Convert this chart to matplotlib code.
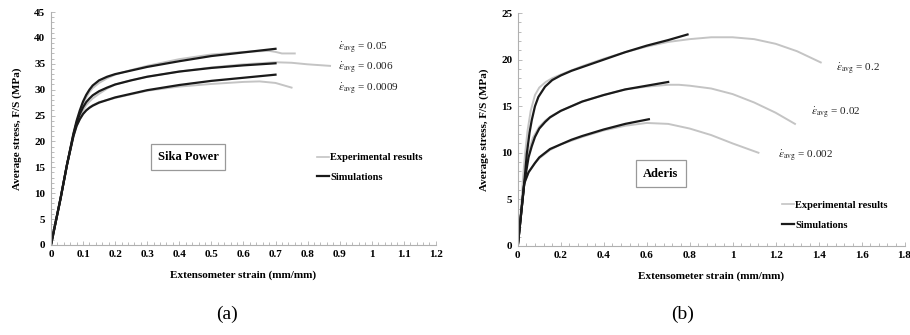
import numpy as np
import matplotlib
matplotlib.use("Agg")
import matplotlib.pyplot as plt
from matplotlib.ticker import MultipleLocator, FormatStrFormatter

plt.rcParams['font.family'] = ['Liberation Serif', 'DejaVu Serif']
plt.rcParams['mathtext.fontset'] = 'stix'

# --- Sika Power (a) ---
sika_exp_005_x = [0, 0.03, 0.05, 0.07, 0.08, 0.09, 0.1, 0.11, 0.12, 0.13, 0.15, 0.175, 0.2, 0.25, 0.3, 0.4, 0.5, 0.6, 0.68, 0.7, 0.72, 0.76]
sika_exp_005_y = [0, 9.0, 15.5, 21.0, 23.5, 25.5, 27.2, 28.5, 29.5, 30.3, 31.3, 32.2, 32.9, 33.8, 34.6, 35.9, 36.8, 37.3, 37.5, 37.3, 37.0, 37.0]
sika_exp_0006_x = [0, 0.03, 0.05, 0.07, 0.08, 0.09, 0.1, 0.11, 0.12, 0.13, 0.15, 0.175, 0.2, 0.25, 0.3, 0.4, 0.5, 0.6, 0.7, 0.75, 0.8, 0.87]
sika_exp_0006_y = [0, 9.0, 15.5, 21.0, 23.2, 24.8, 26.0, 27.0, 27.7, 28.3, 29.2, 30.2, 31.0, 31.8, 32.5, 33.5, 34.3, 34.9, 35.3, 35.2, 34.9, 34.6]
sika_exp_00009_x = [0, 0.03, 0.05, 0.07, 0.08, 0.09, 0.1, 0.11, 0.12, 0.13, 0.15, 0.175, 0.2, 0.25, 0.3, 0.4, 0.5, 0.6, 0.65, 0.7, 0.75]
sika_exp_00009_y = [0, 9.0, 15.5, 21.0, 23.0, 24.3, 25.3, 26.0, 26.6, 27.0, 27.6, 28.0, 28.4, 29.1, 29.8, 30.6, 31.1, 31.5, 31.6, 31.3, 30.4]

sika_sim_005_x = [0, 0.03, 0.05, 0.07, 0.08, 0.09, 0.1, 0.11, 0.12, 0.13, 0.15, 0.175, 0.2, 0.25, 0.3, 0.4, 0.5, 0.6, 0.7]
sika_sim_005_y = [0, 9.0, 15.5, 21.5, 24.0, 26.0, 27.7, 29.0, 30.0, 30.8, 31.8, 32.5, 33.0, 33.7, 34.4, 35.5, 36.5, 37.2, 37.9]
sika_sim_0006_x = [0, 0.03, 0.05, 0.07, 0.08, 0.09, 0.1, 0.11, 0.12, 0.13, 0.15, 0.175, 0.2, 0.25, 0.3, 0.4, 0.5, 0.6, 0.7]
sika_sim_0006_y = [0, 9.0, 15.5, 21.3, 23.6, 25.3, 26.6, 27.6, 28.3, 28.9, 29.7, 30.4, 31.0, 31.8, 32.5, 33.5, 34.2, 34.7, 35.1]
sika_sim_00009_x = [0, 0.03, 0.05, 0.07, 0.08, 0.09, 0.1, 0.11, 0.12, 0.13, 0.15, 0.175, 0.2, 0.25, 0.3, 0.4, 0.5, 0.6, 0.7]
sika_sim_00009_y = [0, 9.0, 15.5, 21.0, 23.0, 24.3, 25.3, 26.0, 26.5, 26.9, 27.5, 28.0, 28.5, 29.2, 29.9, 30.9, 31.7, 32.3, 32.9]

sika_rates = ['0.05', '0.006', '0.0009']
sika_label_xy = [(0.895, 38.0), (0.895, 34.2), (0.895, 30.1)]

# --- Aderis (b) ---
ader_exp_02_x = [0, 0.015, 0.025, 0.034, 0.045, 0.06, 0.08, 0.1, 0.13, 0.16, 0.2, 0.3, 0.4, 0.5, 0.6, 0.7, 0.8, 0.9, 1.0, 1.1, 1.2, 1.3, 1.41]
ader_exp_02_y = [0, 4.0, 7.5, 9.9, 12.3, 14.5, 16.2, 17.0, 17.6, 18.0, 18.4, 19.3, 20.1, 20.8, 21.4, 21.9, 22.2, 22.4, 22.4, 22.2, 21.7, 20.9, 19.7]
ader_exp_002_x = [0, 0.015, 0.03, 0.05, 0.07, 0.1, 0.13, 0.16, 0.2, 0.3, 0.4, 0.5, 0.6, 0.7, 0.75, 0.8, 0.9, 1.0, 1.1, 1.2, 1.29]
ader_exp_002_y = [0, 3.5, 6.8, 10.0, 11.6, 12.8, 13.5, 14.0, 14.5, 15.5, 16.2, 16.8, 17.1, 17.3, 17.3, 17.2, 16.9, 16.3, 15.4, 14.3, 13.1]
ader_exp_0002_x = [0, 0.015, 0.03, 0.05, 0.08, 0.1, 0.15, 0.2, 0.3, 0.4, 0.5, 0.6, 0.7, 0.8, 0.9, 1.0, 1.12]
ader_exp_0002_y = [0, 3.5, 6.7, 7.9, 8.9, 9.4, 10.3, 10.9, 11.7, 12.4, 12.9, 13.2, 13.1, 12.6, 11.9, 11.0, 10.0]

ader_sim_02_x = [0, 0.03, 0.042, 0.055, 0.065, 0.08, 0.096, 0.127, 0.16, 0.2, 0.25, 0.3, 0.4, 0.5, 0.6, 0.7, 0.79]
ader_sim_02_y = [0, 6.7, 9.9, 12.2, 13.5, 15.0, 16.0, 17.1, 17.8, 18.3, 18.8, 19.2, 20.0, 20.8, 21.5, 22.1, 22.7]
ader_sim_002_x = [0, 0.03, 0.05, 0.065, 0.08, 0.1, 0.127, 0.15, 0.2, 0.25, 0.3, 0.4, 0.5, 0.6, 0.7]
ader_sim_002_y = [0, 6.7, 9.5, 10.7, 11.7, 12.6, 13.3, 13.8, 14.5, 15.0, 15.5, 16.2, 16.8, 17.2, 17.6]
ader_sim_0002_x = [0, 0.03, 0.05, 0.08, 0.1, 0.15, 0.2, 0.25, 0.3, 0.4, 0.5, 0.61]
ader_sim_0002_y = [0, 6.7, 7.9, 8.9, 9.5, 10.4, 10.9, 11.4, 11.8, 12.5, 13.1, 13.6]

ader_rates = ['0.2', '0.02', '0.002']
ader_label_xy = [(1.48, 19.0), (1.366, 14.2), (1.21, 9.66)]

EXP_COLOR = '#c4c4c4'
SIM_COLOR = '#1a1a1a'
AXIS_COLOR = '#b0b0b0'


def style_axes(ax, xmax, xmaj, xmin, ymax, ymaj, ymin):
    ax.set_xlim(0, xmax)
    ax.set_ylim(0, ymax)
    ax.xaxis.set_major_locator(MultipleLocator(xmaj))
    ax.xaxis.set_minor_locator(MultipleLocator(xmin))
    ax.yaxis.set_major_locator(MultipleLocator(ymaj))
    ax.yaxis.set_minor_locator(MultipleLocator(ymin))
    ax.xaxis.set_major_formatter(FormatStrFormatter('%g'))
    for s in ['top', 'right']:
        ax.spines[s].set_visible(False)
    for s in ['left', 'bottom']:
        ax.spines[s].set_color(AXIS_COLOR)
        ax.spines[s].set_linewidth(0.8)
    ax.tick_params(which='both', direction='in', color=AXIS_COLOR, width=0.6)
    ax.tick_params(which='major', length=3, labelsize=8, pad=4)
    ax.tick_params(which='minor', length=2.5)
    for lab in ax.get_xticklabels() + ax.get_yticklabels():
        lab.set_fontweight('bold')
    ax.set_xlabel('Extensometer strain (mm/mm)', fontsize=8, fontweight='bold', labelpad=8)
    ax.set_ylabel('Average stress, F/S (MPa)', fontsize=8, fontweight='bold', labelpad=9)


fig = plt.figure(figsize=(9.1, 3.35), dpi=100)
ax1 = fig.add_axes([0.056, 0.269, 0.423, 0.695])
ax2 = fig.add_axes([0.569, 0.266, 0.425, 0.695])

# (a) Sika Power
for x, y in [(sika_exp_005_x, sika_exp_005_y), (sika_exp_0006_x, sika_exp_0006_y),
             (sika_exp_00009_x, sika_exp_00009_y)]:
    ax1.plot(x, y, color=EXP_COLOR, lw=1.4)
for x, y in [(sika_sim_005_x, sika_sim_005_y), (sika_sim_0006_x, sika_sim_0006_y),
             (sika_sim_00009_x, sika_sim_00009_y)]:
    ax1.plot(x, y, color=SIM_COLOR, lw=1.6)
style_axes(ax1, 1.2, 0.1, 0.02, 45, 5, 1)
for r, (tx, ty) in zip(sika_rates, sika_label_xy):
    ax1.text(tx, ty, r'$\dot{\varepsilon}_{\mathrm{avg}}$ = ' + r, fontsize=8, va='center', color='#222222')
ax1.text(0.356, 0.378, 'Sika Power', transform=ax1.transAxes, ha='center', va='center',
         fontsize=9, fontweight='bold',
         bbox=dict(boxstyle='square,pad=0.55', fc='white', ec='#999999', lw=0.9))

# (b) Aderis
for x, y in [(ader_exp_02_x, ader_exp_02_y), (ader_exp_002_x, ader_exp_002_y),
             (ader_exp_0002_x, ader_exp_0002_y)]:
    ax2.plot(x, y, color=EXP_COLOR, lw=1.4)
for x, y in [(ader_sim_02_x, ader_sim_02_y), (ader_sim_002_x, ader_sim_002_y),
             (ader_sim_0002_x, ader_sim_0002_y)]:
    ax2.plot(x, y, color=SIM_COLOR, lw=1.6)
style_axes(ax2, 1.8, 0.2, 0.04, 25, 5, 1)
for r, (tx, ty) in zip(ader_rates, ader_label_xy):
    ax2.text(tx, ty, r'$\dot{\varepsilon}_{\mathrm{avg}}$ = ' + r, fontsize=8, va='center', color='#222222')
ax2.text(0.37, 0.309, 'Aderis', transform=ax2.transAxes, ha='center', va='center',
         fontsize=9, fontweight='bold',
         bbox=dict(boxstyle='square,pad=0.6', fc='white', ec='#999999', lw=0.9))

# legends
for ax, anchor in [(ax1, (0.668, 0.435)), (ax2, (0.66, 0.234))]:
    h1, = ax.plot([], [], color=EXP_COLOR, lw=1.2)
    h2, = ax.plot([], [], color=SIM_COLOR, lw=1.6)
    ax.legend([h1, h2], ['Experimental results', 'Simulations'], loc='upper left',
              bbox_to_anchor=anchor, frameon=False, handlelength=1.1, handletextpad=0.15,
              labelspacing=1.0, prop={'weight': 'bold', 'size': 7.5})

fig.text(227 / 910, 1 - 314 / 335, '(a)', ha='center', va='center', fontsize=14)
fig.text(683 / 910, 1 - 314 / 335, '(b)', ha='center', va='center', fontsize=14)

fig.savefig('out.png', dpi=100)
